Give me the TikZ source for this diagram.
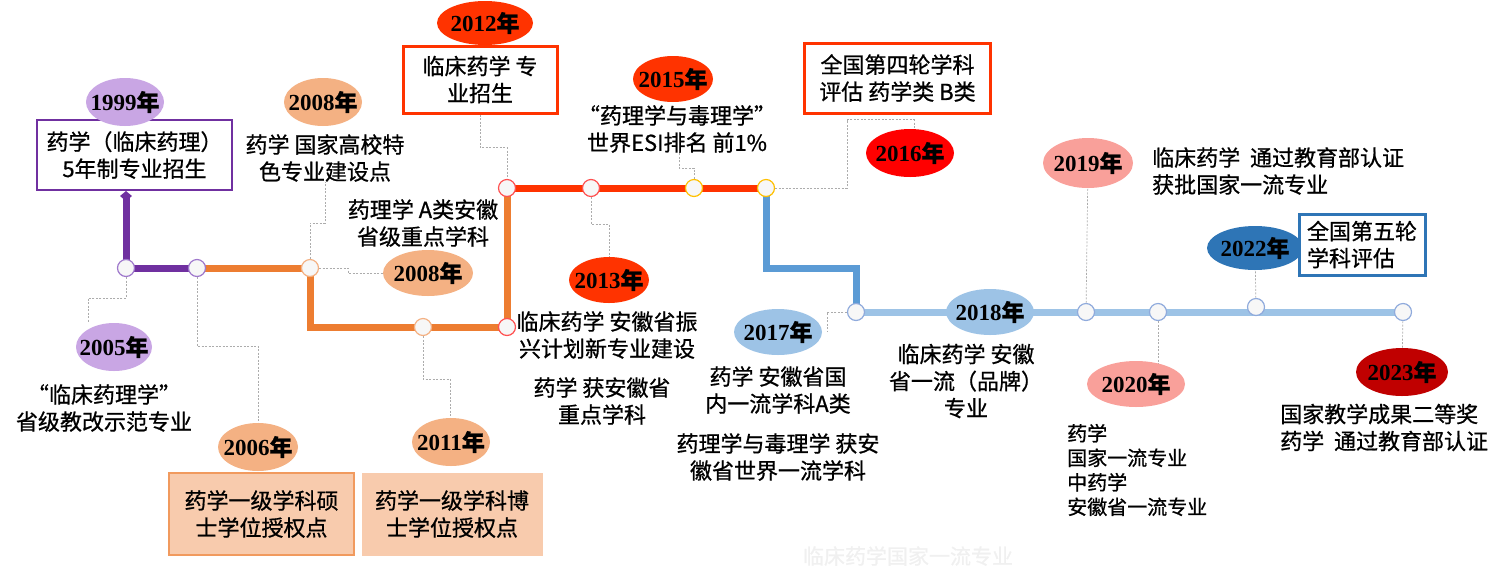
\documentclass[tikz,border=0pt]{standalone}
\usepackage{fontspec}
\setmainfont{Liberation Serif}
\newfontfamily\cjk[UprightFeatures={FakeBold=0.8}, BoldFeatures={FakeBold=0.8}]{Noto Sans CJK SC}
\usetikzlibrary{shapes.geometric, arrows.meta, backgrounds}
\definecolor{tlpurple}{HTML}{7030A0}
\definecolor{ellpurple}{HTML}{C9A6E4}
\definecolor{dotpurple}{HTML}{9F78CC}
\definecolor{tlorange}{HTML}{ED7D31}
\definecolor{ellorange}{HTML}{F4B183}
\definecolor{peach}{HTML}{F8CBAD}
\definecolor{boxorange}{HTML}{F19A5E}
\definecolor{tlred}{HTML}{FF3300}
\definecolor{pured}{HTML}{FF0000}
\definecolor{dotred}{HTML}{FF5050}
\definecolor{dotyellow}{HTML}{FFC000}
\definecolor{tlblue}{HTML}{5B9BD5}
\definecolor{deepblue}{HTML}{2E75B6}
\definecolor{lineblue}{HTML}{9DC3E6}
\definecolor{dotblue}{HTML}{8FAADC}
\definecolor{ellpink}{HTML}{F9A09A}
\definecolor{darkred}{HTML}{C00000}
\newcommand{\notefont}{\cjk\fontsize{22}{27}\selectfont}
\newcommand{\yearfont}{\fontsize{23}{23}\selectfont\bfseries}
\newcommand{\yr}[1]{\makebox[0pt]{#1{\cjk 年}}}
\tikzset{
  dot/.style={circle, draw=#1, fill=white!97!black, line width=1.2pt, minimum size=17pt, inner sep=0pt},
  yearell/.style={ellipse, fill=#1, inner sep=0pt, font=\yearfont},
  note/.style={align=center, inner sep=0pt, font=\notefont},
  boxed/.style={rectangle, draw=#1, fill=white, align=center, inner sep=0pt, font=\notefont},
  lead/.style={draw=gray!65, line width=0.7pt, dash pattern=on 2pt off 1.5pt},
  track/.style={draw=#1, line width=7pt}
}

\begin{document}
\begin{tikzpicture}[x=1pt, y=-1pt]
    \useasboundingbox (0,0) rectangle (1498,582);

    % 1999 - 2005
    \node[dot=dotpurple] (c1) at (126,268) {};
    \node[dot=dotpurple] (c2) at (197,268) {};
    \node[boxed=tlpurple, line width=2pt, minimum width=195pt, minimum height=70pt] (box99) at (134.5,155) {药学（临床药理）\\5年制专业招生};
    \node[yearell=ellpurple, minimum width=78pt, minimum height=48pt] (y1999) at (125,102) {\yr{1999}};
    \node[yearell=ellpurple, minimum width=76pt, minimum height=48pt] (y2005) at (114,347) {\yr{2005}};
    \node[note] (t2005) at (104,408) {“临床药理学”\\省级教改示范专业};

    % 2006 - 2011
    \node[dot=ellorange] (c3) at (310,268) {};
    \node[dot=ellorange] (c4) at (423,327) {};
    \node[yearell=ellorange, minimum width=78pt, minimum height=48pt] (y2008a) at (323,102) {\yr{2008}};
    \node[note] (t2008a) at (325,158) {药学 国家高校特\\色专业建设点};
    \node[note] (t2008b) at (423,223) {药理学 A类安徽\\省级重点学科};
    \node[yearell=ellorange, minimum width=90pt, minimum height=46pt] (y2008b) at (428,273) {\yr{2008}};
    \node[yearell=ellorange, minimum width=80pt, minimum height=48pt] (y2006) at (258,447) {\yr{2006}};
    \node[boxed=boxorange, fill=peach, line width=1.5pt, minimum width=185pt, minimum height=82pt] (box06) at (261.5,514) {药学一级学科硕\\士学位授权点};
    \node[yearell=ellorange, minimum width=78pt, minimum height=48pt] (y2011) at (451,442) {\yr{2011}};
    \node[boxed=peach, fill=peach, minimum width=180pt, minimum height=82pt] (box11) at (452,514) {药学一级学科博\\士学位授权点};

    % 2012 - 2016
    \node[dot=dotred] (c5) at (507,327) {};
    \node[dot=dotred] (c6) at (507,188) {};
    \node[dot=dotred] (c7) at (591,188) {};
    \node[dot=dotyellow] (c8) at (694,188) {};
    \node[dot=dotyellow] (c9) at (766,188) {};
    \node[boxed=tlred, line width=3pt, minimum width=154pt, minimum height=67pt] (box12) at (480,79.5) {临床药学 专\\业招生};
    \node[yearell=tlred, minimum width=96pt, minimum height=44pt] (y2012) at (485,23) {\yr{2012}};
    \node[yearell=tlred, minimum width=80pt, minimum height=46pt] (y2015) at (673,79) {\yr{2015}};
    \node[note] (t2015) at (677,129) {“药理学与毒理学”\\世界ESI排名 前1\%};
    \node[yearell=tlred, minimum width=80pt, minimum height=46pt] (y2013) at (609,280) {\yr{2013}};
    \node[note] (t2013a) at (607,335) {临床药学 安徽省振\\兴计划新专业建设};
    \node[note] (t2013b) at (602,401) {药学 获安徽省\\重点学科};
    \node[boxed=tlred, line width=3pt, minimum width=186pt, minimum height=70pt] (box16) at (897.5,78) {全国第四轮学科\\评估 药学类 B类};
    \node[yearell=pured, minimum width=88pt, minimum height=48pt] (y2016) at (910,153) {\yr{2016}};

    % 2017 - 2023
    \node[dot=dotblue] (c10) at (856,312) {};
    \node[dot=dotblue] (c11) at (1086,312) {};
    \node[dot=dotblue] (c12) at (1158,312) {};
    \node[dot=dotblue] (c13) at (1256,307) {};
    \node[dot=dotblue] (c14) at (1403,312) {};
    \node[yearell=lineblue, minimum width=88pt, minimum height=46pt] (y2017) at (778,332) {\yr{2017}};
    \node[note] (t2017a) at (778,390) {药学 安徽省国\\内一流学科A类};
    \node[note] (t2017b) at (778,457) {药理学与毒理学 获安\\徽省世界一流学科};
    \node[yearell=lineblue, minimum width=88pt, minimum height=46pt] (y2018) at (990,312) {\yr{2018}};
    \node[note] (t2018) at (966,381) {临床药学 安徽\\省一流（品牌）\\专业};
    \node[yearell=ellpink, minimum width=90pt, minimum height=50pt] (y2019) at (1088,163) {\yr{2019}};
    \node[note, align=left, anchor=west] (t2019) at (1152,171) {临床药学\ \ 通过教育部认证\\获批国家一流专业};
    \node[yearell=ellpink, minimum width=98pt, minimum height=46pt] (y2020) at (1136,384) {\yr{2020}};
    \node[note, align=left, anchor=west, font=\cjk\fontsize{20}{24.5}\selectfont] (t2020) at (1067,470) {药学\\国家一流专业\\中药学\\安徽省一流专业};
    \node[yearell=deepblue, minimum width=96pt, minimum height=44pt] (y2022) at (1255,248) {\yr{2022}};
    \node[boxed=deepblue, line width=3pt, minimum width=126pt, minimum height=61pt, align=left] (box22) at (1362,244.5) {全国第五轮\\学科评估};
    \node[yearell=darkred, minimum width=92pt, minimum height=48pt] (y2023) at (1402,372) {\yr{2023}};
    \node[note, align=left, anchor=west] (t2023) at (1280,427.5) {国家教学成果二等奖\\药学\ \ 通过教育部认证};

    \node[font=\cjk\fontsize{21}{21}\selectfont, text=gray!12] (mark) at (908,556) {临床药学国家一流专业};

    \begin{scope}[on background layer]
    % time line
    \draw[track=tlpurple, -{Diamond[length=10pt,width=12pt]}] (c2.center) -- (c1.center) -- (c1 |- box99.south);
    \draw[track=tlorange] (c2.center) -- (c3.center) |- (c5.center) -- (c6.center);
    \draw[track=tlred] (c6.center) -- (c9.center);
    \draw[track=tlblue] (c9.center) -- ++(0,80) -| (c10.center);
    \draw[track=lineblue] (c10.center) -- (c14.center);

    % leaders
    \draw[lead] (c1) -- ++(0,30) -| ([xshift=-26pt]y2005.north);
    \draw[lead] (c2) -- ++(0,78) -| (y2006);
    \draw[lead] (c3) -- ++(0,-45) -| (t2008a);
    \draw[lead] (c3) -- ++(38,0) |- (y2008b);
    \draw[lead] (c4) -- ++(0,52) -| ([xshift=-1pt]y2011.north);
    \draw[lead] (box12) -- ++(0,68) -| (c6);
    \draw[lead] (c7) -- ++(0,36) -| (y2013);
    \draw[lead] (c8) -- ++(0,-20) -| ([xshift=2pt]t2015.south);
    \draw[lead] (c9) -- ++(81,0) |- ([xshift=4pt,yshift=9pt]y2016.north) -- ([xshift=4pt]y2016.north);
    \draw[lead] (c10) -| ([xshift=5pt]y2017.east);
    \draw[lead] (c11) -- (y2019);
    \draw[lead] (c12) -- ([xshift=22pt]y2020.center);
    \draw[lead] (c13) -- (y2022);
    \draw[lead] (c14) -- (y2023);
    \end{scope}
\end{tikzpicture}
\end{document}
